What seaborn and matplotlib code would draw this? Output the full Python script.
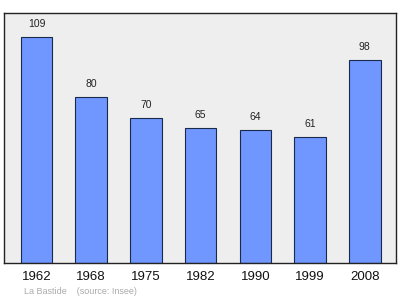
import matplotlib
matplotlib.use("Agg")
import matplotlib.pyplot as plt
import seaborn as sns
import pandas as pd

years = ["1962", "1968", "1975", "1982", "1990", "1999", "2008"]
population = [109, 80, 70, 65, 64, 61, 98]

sns.set_theme(style="white")
plt.rcParams['font.family'] = ['Liberation Sans', 'DejaVu Sans']

df = pd.DataFrame({"year": years, "pop": population})

fig = plt.figure(figsize=(4.00, 2.99), dpi=100)
ax = fig.add_axes([4/400, 1 - 263/299, 392/400, 250/299])
ax.set_facecolor("#eeeeee")
sns.barplot(data=df, x="year", y="pop", ax=ax, color="#7096ff", saturation=1,
            width=0.575, edgecolor="#1a2a4a", linewidth=0.8)
ax.set_xlim(-0.594, 6.57)
ax.set_ylim(0, 120.6)
for i, v in enumerate(population):
    ax.text(i, v + 3.8, str(v), ha="center", va="bottom", fontsize=7.5, color="#222222")
ax.set_yticks([])
ax.set_xlabel("")
ax.set_ylabel("")
ax.tick_params(axis="x", length=0, labelsize=9.5, pad=6, colors="#111111")
for s in ax.spines.values():
    s.set_color("#222222")
    s.set_linewidth(1.0)
fig.text(24/400, 1 - 292/299, "La Bastide    (source: Insee)", fontsize=6.5,
         color="#aaaaaa", va="center", ha="left")
fig.savefig("out.png", dpi=100)
